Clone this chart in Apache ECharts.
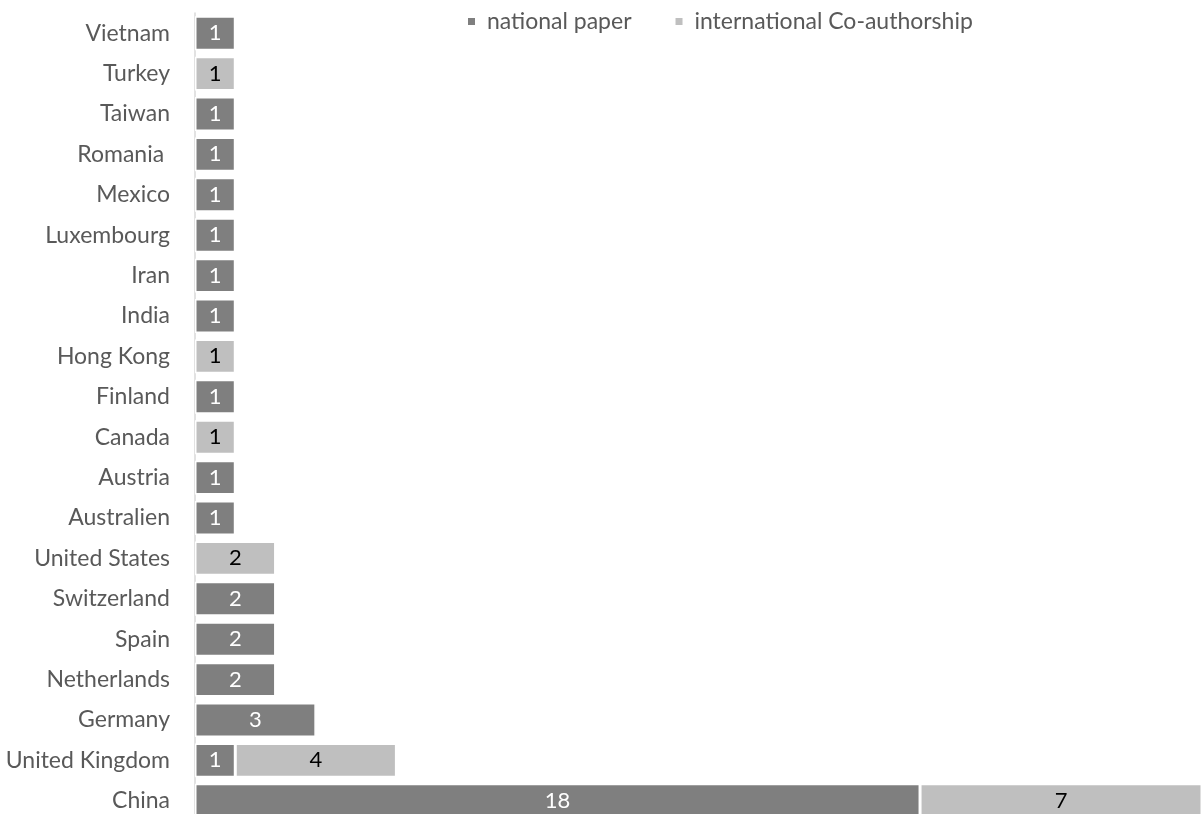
<!DOCTYPE html>
<html>
<head>
<meta charset="utf-8">
<script src="https://cdn.jsdelivr.net/npm/echarts@6/dist/echarts.min.js"></script>
<style>
  html, body { margin: 0; padding: 0; background: #fff; overflow: hidden; }
  #chart { width: 1202px; height: 830px; }
</style>
</head>
<body>
<div id="chart"></div>
<script>
// Countries, bottom to top
const countries = ['China', 'United Kingdom', 'Germany', 'Netherlands', 'Spain', 'Switzerland',
  'United States', 'Australien', 'Austria', 'Canada', 'Finland', 'Hong Kong', 'India', 'Iran',
  'Luxembourg', 'Mexico', 'Romania ', 'Taiwan', 'Turkey', 'Vietnam'];
const nationalPaper = [18, 1, 3, 2, 2, 2, null, 1, 1, null, 1, null, 1, 1, 1, 1, 1, 1, null, 1];
const intlCoauthorship = [7, 4, null, null, null, null, 2, null, null, 1, null, 1, null, null, null, null, null, null, 1, null];

const FONT = 'Lato, "Open Sans", sans-serif';

const chart = echarts.init(document.getElementById('chart'));
chart.setOption({
  animation: false,
  textStyle: { fontFamily: FONT },
  legend: {
    top: 5,
    left: 461,
    itemWidth: 9,
    itemHeight: 9,
    itemGap: 42,
    icon: 'rect',
    formatter: name => ' ' + name,
    textStyle: { fontFamily: FONT, fontSize: 23, color: '#595959' },
    data: ['national paper', 'international Co-authorship']
  },
  grid: { left: 195, top: 13, width: 1007, height: 808, containLabel: false },
  xAxis: {
    type: 'value', min: 0, max: 25,
    axisLine: { show: false }, axisTick: { show: false },
    axisLabel: { show: false }, splitLine: { show: false }
  },
  yAxis: {
    type: 'category', data: countries,
    axisLine: { show: true, lineStyle: { color: '#d9d9d9', width: 1.5 } },
    axisTick: { show: false },
    axisLabel: { fontFamily: FONT, fontSize: 23, color: '#595959', margin: 25 }
  },
  series: [
    {
      name: 'national paper', type: 'bar', stack: 'total', data: nationalPaper,
      barCategoryGap: '16%',
      itemStyle: { color: '#7f7f7f', borderColor: '#ffffff', borderWidth: 1.5 },
      label: { show: true, position: 'inside', color: '#ffffff', fontSize: 22, fontFamily: FONT }
    },
    {
      name: 'international Co-authorship', type: 'bar', stack: 'total', data: intlCoauthorship,
      barCategoryGap: '16%',
      itemStyle: { color: '#bfbfbf', borderColor: '#ffffff', borderWidth: 1.5 },
      label: { show: true, position: 'inside', color: '#000000', fontSize: 22, fontFamily: FONT }
    }
  ]
});
</script>
</body>
</html>
